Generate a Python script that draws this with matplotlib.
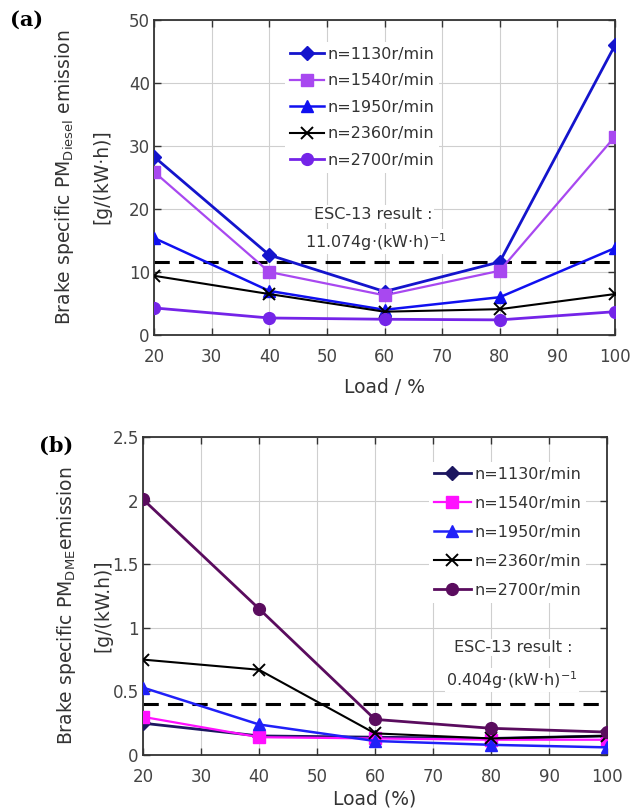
import numpy as np
import matplotlib
matplotlib.use("Agg")
import matplotlib.pyplot as plt

# ---- data -------------------------------------------------------------
load = [20, 40, 60, 80, 100]
speeds = ["n=1130r/min", "n=1540r/min", "n=1950r/min", "n=2360r/min", "n=2700r/min"]

# (a) diesel, g/(kW.h)
pm_diesel_1130 = [28.3, 12.7, 6.9, 11.6, 46.0]
pm_diesel_1540 = [25.9, 10.0, 6.3, 10.2, 31.5]
pm_diesel_1950 = [15.4, 7.0, 4.0, 6.0, 13.8]
pm_diesel_2360 = [9.4, 6.5, 3.7, 4.1, 6.5]
pm_diesel_2700 = [4.3, 2.7, 2.5, 2.4, 3.7]
esc_diesel = 11.6

# (b) DME, g/(kW.h)
pm_dme_1130 = [0.25, 0.15, 0.14, 0.13, 0.15]
pm_dme_1540 = [0.30, 0.14, 0.13, 0.12, 0.12]
pm_dme_1950 = [0.53, 0.24, 0.11, 0.08, 0.06]
pm_dme_2360 = [0.75, 0.67, 0.17, 0.13, 0.15]
pm_dme_2700 = [2.01, 1.15, 0.28, 0.21, 0.18]
esc_dme = 0.404

xticks = [20, 30, 40, 50, 60, 70, 80, 90, 100]
yticks_a = [0, 10, 20, 30, 40, 50]
yticks_b = [0, 0.5, 1, 1.5, 2, 2.5]
yticklabels_b = ["0", "0.5", "1", "1.5", "2", "2.5"]

plt.rcParams['font.family'] = ['DejaVu Sans']

W, H = 637, 809
fig = plt.figure(figsize=(W / 100, H / 100), dpi=100)


def px_axes(left, top, right, bottom):
    return fig.add_axes([left / W, 1 - bottom / H, (right - left) / W, (bottom - top) / H])


def style_axes(ax, yticks, ylim):
    ax.set_xlim(20, 100)
    ax.set_ylim(*ylim)
    ax.set_xticks(xticks)
    ax.set_yticks(yticks)
    ax.grid(True, color="#cfcfcf", linewidth=0.8)
    ax.set_axisbelow(True)
    ax.tick_params(direction="in", top=True, right=True, labelsize=12,
                   length=5, width=1, colors="#333333", labelcolor="#444444")
    ax.tick_params(axis="x", pad=9)
    ax.tick_params(axis="y", pad=3)
    for s in ax.spines.values():
        s.set_linewidth(1.3)
        s.set_color("#333333")


markers = ["D", "s", "^", "x", "o"]
msizes = [7, 8, 8.5, 9, 8.5]
lws = [2.0, 1.6, 1.8, 1.5, 2.0]

# ---- panel (a) --------------------------------------------------------
ax1 = px_axes(154, 20, 615, 335)
series_a = [pm_diesel_1130, pm_diesel_1540, pm_diesel_1950, pm_diesel_2360, pm_diesel_2700]
colors_a = ["#1414cc", "#a848f0", "#1010f0", "black", "#7424e8"]
for vals, lab, c, m, ms, lw in zip(series_a, speeds, colors_a, markers, msizes, lws):
    ax1.plot(load, vals, color=c, marker=m, markersize=ms, linewidth=lw,
             markeredgewidth=1.4 if m == "x" else 1.0, label=lab, zorder=3)
ax1.axhline(esc_diesel, color="black", linewidth=2.2, dashes=(5, 3), zorder=2)
style_axes(ax1, yticks_a, (0, 50))
ax1.set_xlabel("Load / %", fontsize=13.5, color="#333333", labelpad=9)
leg1 = ax1.legend(loc="upper left", bbox_to_anchor=(0.285, 0.93), fontsize=11.5,
                  frameon=True, facecolor="white", edgecolor="none", framealpha=1,
                  borderpad=0.3, borderaxespad=0, handlelength=2.1, handletextpad=0.25,
                  labelspacing=0.72, fancybox=False)
for t in leg1.get_texts():
    t.set_color("#333333")
ax1.text(58, 19.2, "ESC-13 result :", ha="center", va="center", fontsize=11.5,
         color="#333333", bbox=dict(facecolor="white", edgecolor="none", pad=1))
ax1.text(58.5, 14.8, "11.074g·(kW·h)$^{-1}$", ha="center", va="center", fontsize=11.5,
         color="#333333", bbox=dict(facecolor="white", edgecolor="none", pad=1))

fig.text(65 / W, 1 - 177 / H, r"Brake specific PM$_{\mathrm{Diesel}}$ emission",
         rotation=90, ha="center", va="center", fontsize=13.5, color="#333333")
fig.text(102 / W, 1 - 177 / H, "[g/(kW·h)]", rotation=90, ha="center", va="center",
         fontsize=13.5, color="#333333")
fig.text(27 / W, 1 - 20 / H, "(a)", ha="center", va="center", fontsize=15,
         fontweight="bold", family="DejaVu Serif")

# ---- panel (b) --------------------------------------------------------
ax2 = px_axes(143, 437, 607, 755)
series_b = [pm_dme_1130, pm_dme_1540, pm_dme_1950, pm_dme_2360, pm_dme_2700]
colors_b = ["#1c1660", "#ff10ff", "#2020f8", "black", "#5a0c5e"]
for vals, lab, c, m, ms, lw in zip(series_b, speeds, colors_b, markers, msizes, lws):
    ax2.plot(load, vals, color=c, marker=m, markersize=ms, linewidth=lw,
             markeredgewidth=1.4 if m == "x" else 1.0, label=lab, zorder=3)
ax2.axhline(esc_dme, color="black", linewidth=2.2, dashes=(5, 3), zorder=2)
style_axes(ax2, yticks_b, (0, 2.5))
ax2.set_yticklabels(yticklabels_b)
ax2.set_xlabel("Load (%)", fontsize=13.5, color="#333333", labelpad=3)
leg2 = ax2.legend(loc="upper left", bbox_to_anchor=(0.617, 0.922), fontsize=11.5,
                  frameon=True, facecolor="white", edgecolor="none", framealpha=1,
                  borderpad=0.3, borderaxespad=0, handlelength=2.3, handletextpad=0.2,
                  labelspacing=0.88, fancybox=False)
for t in leg2.get_texts():
    t.set_color("#333333")
ax2.text(83.8, 0.845, "ESC-13 result :", ha="center", va="center", fontsize=11.5,
         color="#333333", bbox=dict(facecolor="white", edgecolor="none", pad=1))
ax2.text(83.6, 0.59, "0.404g·(kW·h)$^{-1}$", ha="center", va="center", fontsize=11.5,
         color="#333333", bbox=dict(facecolor="white", edgecolor="none", pad=1))

fig.text(67 / W, 1 - 606 / H, r"Brake specific PM$_{\mathrm{DME}}$emission",
         rotation=90, ha="center", va="center", fontsize=13.5, color="#333333")
fig.text(103 / W, 1 - 606 / H, "[g/(kW.h)]", rotation=90, ha="center", va="center",
         fontsize=13.5, color="#333333")
fig.text(56 / W, 1 - 446 / H, "(b)", ha="center", va="center", fontsize=15,
         fontweight="bold", family="DejaVu Serif")

fig.savefig("out.png", dpi=100)
